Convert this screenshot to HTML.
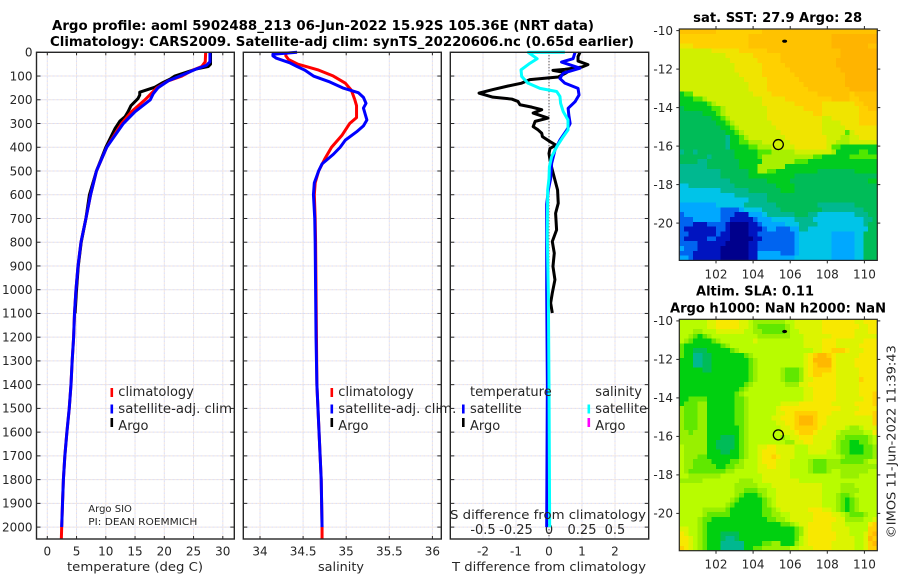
<!DOCTYPE html>
<html>
<head>
<meta charset="utf-8">
<title>Argo profile chart</title>
<style>
html,body{margin:0;padding:0;background:#fff;}
svg{display:block;font-family:"DejaVu Sans","Liberation Sans",sans-serif;}
text{fill:#262626;font-size:12px;}
.ttl{font-weight:bold;font-size:13px;fill:#000;}
.leg{font-size:13px;}
.sm{font-size:10px;}
</style>
</head>
<body>
<svg id="fig" xmlns="http://www.w3.org/2000/svg" width="900" height="580" viewBox="0 0 900 580">
  <rect x="0" y="0" width="900" height="580" fill="#fff"/>
  <text class="ttl" x="52" y="30" textLength="542" lengthAdjust="spacingAndGlyphs">Argo profile: aoml 5902488_213 06-Jun-2022 15.92S 105.36E (NRT data)</text>
  <text class="ttl" x="50" y="46" textLength="584" lengthAdjust="spacingAndGlyphs">Climatology: CARS2009. Satellite-adj clim: synTS_20220606.nc (0.65d earlier)</text>
  <g id="panels"></g>
  <g id="maps"></g>

  <text x="135" y="571" text-anchor="middle" textLength="136" lengthAdjust="spacingAndGlyphs">temperature (deg C)</text>
  <text x="341" y="571" text-anchor="middle" textLength="46" lengthAdjust="spacingAndGlyphs">salinity</text>
  <text x="549" y="571" text-anchor="middle" textLength="194" lengthAdjust="spacingAndGlyphs">T difference from climatology</text>
  <text x="548" y="519" text-anchor="middle" textLength="196" lengthAdjust="spacingAndGlyphs">S difference from climatology</text>

  <g>
    <rect x="110.5" y="388" width="2.6" height="9" fill="#f00"/>
    <text class="leg" x="118.3" y="396">climatology</text>
    <rect x="110.5" y="404.500" width="2.6" height="9" fill="#00f"/>
    <text class="leg" x="118.3" y="413" textLength="118" lengthAdjust="spacingAndGlyphs">satellite-adj. clim.</text>
    <rect x="110.5" y="418" width="2.6" height="9" fill="#000"/>
    <text class="leg" x="118.3" y="430">Argo</text>
  </g>
  <rect x="235.100" y="400" width="7.400" height="18" fill="#fff"/>
  <g>
    <rect x="330.5" y="388" width="2.6" height="9" fill="#f00"/>
    <text class="leg" x="338.3" y="396">climatology</text>
    <rect x="330.5" y="404.500" width="2.6" height="9" fill="#00f"/>
    <text class="leg" x="338.3" y="413" textLength="118" lengthAdjust="spacingAndGlyphs">satellite-adj. clim.</text>
    <rect x="330.5" y="418" width="2.6" height="9" fill="#000"/>
    <text class="leg" x="338.3" y="430">Argo</text>
  </g>
  <g>
    <text class="leg" x="470" y="396">temperature</text>
    <rect x="462" y="404.500" width="2.6" height="9" fill="#00f"/>
    <text class="leg" x="470" y="413">satellite</text>
    <rect x="462" y="418" width="2.6" height="9" fill="#000"/>
    <text class="leg" x="470" y="430">Argo</text>
    <text class="leg" x="595.300" y="396">salinity</text>
    <rect x="587.500" y="404.500" width="2.6" height="9" fill="#0ff"/>
    <text class="leg" x="595.300" y="413">satellite</text>
    <rect x="587.500" y="418" width="2.6" height="9" fill="#f0f"/>
    <text class="leg" x="595.300" y="430">Argo</text>
  </g>
  <text class="sm" x="88.300" y="512">Argo SIO</text>
  <text class="sm" x="88.300" y="525" textLength="109" lengthAdjust="spacingAndGlyphs">PI: DEAN ROEMMICH</text>

  <text class="ttl" x="777.700" y="22" text-anchor="middle" textLength="169" lengthAdjust="spacingAndGlyphs">sat. SST: 27.9 Argo: 28</text>
  <text class="ttl" x="755" y="295.500" text-anchor="middle" textLength="118" lengthAdjust="spacingAndGlyphs">Altim. SLA: 0.11</text>
  <text class="ttl" x="778" y="312.500" text-anchor="middle" textLength="216" lengthAdjust="spacingAndGlyphs">Argo h1000: NaN h2000: NaN</text>
  <text transform="translate(895.500,441.700) rotate(-90)" text-anchor="middle" textLength="193" lengthAdjust="spacingAndGlyphs">©IMOS 11-Jun-2022 11:39:43</text>
</svg>

<script>
// ---------- chart data ----------
const depthTicks = [0,100,200,300,400,500,600,700,800,900,1000,1100,1200,1300,1400,1500,1600,1700,1800,1900,2000];
const tempTicks = [0,5,10,15,20,25,30];
const salTicks = [34,34.5,35,35.5,36];
const salTickLabels = ['34','34.5','35','35.5','36'];
const tDiffTicks = [-2,-1,0,1,2];
const sDiffTicks = [-0.5,-0.25,0,0.25,0.5];
const sDiffTickLabels = ['-0.5','-0.25','0','0.25','0.5'];

const climDepth = [0,40,60,75,100,120,150,200,250,300,400,500,600,700,800,900,1000,1100,1200,1300,1400,1500,1600,1700,1800,1900,2000,2050];
const climTemp = [27.07,27.0,26.4,24.9,23,20.7,18.7,16.7,14.4,12.7,10.15,8.4,7.4,6.6,5.76,5.25,4.9,4.65,4.5,4.25,4.05,3.75,3.35,3.0,2.75,2.6,2.46,2.4];
const climSalDepth = [0,15,30,50,75,100,130,160,200,225,250,275,300,350,400,450,500,550,600,700,800,1000,1200,1400,1600,1800,2000,2050];
const climSal = [34.30,34.30,34.33,34.44,34.68,34.85,34.99,35.06,35.10,35.12,35.12,35.12,35.04,34.95,34.83,34.75,34.68,34.64,34.63,34.64,34.645,34.65,34.655,34.66,34.685,34.71,34.72,34.72];

const satTempDepth = [0,40,55,70,100,120,150,175,200,250,300,400,500,600,700,800,900,1000,1100,1200,1300,1400,1500,1600,1700,1800,1900,2000];
const satTemp = [27.8,27.8,27.2,25.5,22.7,20.7,18.9,18.1,17.6,15,13,10.15,8.4,7.4,6.6,5.76,5.25,4.9,4.65,4.5,4.25,4.05,3.75,3.35,3.0,2.75,2.6,2.46];
const satSalDepth = [0,8,15,25,45,60,75,100,125,150,170,190,215,235,260,285,310,335,370,400,430,470,500,550,600,700,800,1000,1200,1400,1600,1800,2000];
const satSal = [34.43,34.15,34.15,34.19,34.35,34.43,34.52,34.62,34.81,34.96,35.14,35.2,35.23,35.2,35.22,35.24,35.2,35.12,34.99,34.93,34.85,34.72,34.68,34.63,34.62,34.635,34.64,34.645,34.65,34.66,34.685,34.71,34.72];

const argoTempDepth = [0,50,60,70,100,113,127,147,168,180,195,225,250,271,290,320,350,400,500,600,700,800,900,1000,1100];
const argoTemp = [27.9,27.9,27.5,25.5,21.8,21,19.8,18.4,15.8,15.8,15.5,14.3,13.8,13.3,12.4,11.6,11,10,8.4,7.2,6.6,5.8,5.3,5,4.75];

const tDiffArgoDepth = [0,18,37,52,62,72,76,86,104,115,130,142,157,172,189,197,207,221,231,242,256,277,291,313,327,341,355,376,391,405,426,454,496,538,580,636,678,748,797,846,902,958,1014,1056,1098];
const tDiffArgo = [0.94,0.88,0.88,1.18,1.0,0.48,0.12,0.53,0.28,-0.58,-0.83,-1.24,-1.7,-2.12,-1.7,-1.13,-0.94,-0.88,-0.52,-0.22,-0.48,-0.03,-0.42,-0.48,-0.33,-0.22,-0.2,0.03,0.21,0.03,0,0.03,0.1,0.18,0.26,0.28,0.2,0.23,0.1,0.16,0.12,0.18,0.1,0.05,0.1];
const tDiffSatDepth = [0,27,41,67,88,110,130,152,180,208,236,264,300,327,370,412,468,532,580,640,800,1000,1400,2000];
const tDiffSat = [0.79,0.73,0.38,0.94,0.43,0.33,0.48,0.88,0.91,0.79,0.58,0.6,0.64,0.54,0.33,0.18,0.08,0.05,-0.02,-0.07,-0.07,-0.07,-0.05,-0.07];
const sDiffSatDepth = [0,0.5,27,46,74,102,130,152,165,186,215,250,285,327,355,398,440,482,532,580,776,1014,1400,2000];
const sDiffSat = [0.12,-0.157,-0.09,-0.144,-0.212,-0.207,-0.159,-0.068,0.058,0.083,0.088,0.108,0.144,0.144,0.108,0.058,0.02,0.003,0,-0.01,-0.013,-0.005,0,0.005];

const mapLonTicks = [102,104,106,108,110];
const mapLatTicks = [-10,-12,-14,-16,-18,-20];
const floatLon = 105.36;
const floatLat = -15.92;
const islandLon = 105.7;
const islandLat = -10.55;

// colour-class per cell: north row first, west column first
const sstRows = [
"ddddddddccccccccccddddddddddddddddddddddddd",
"cccccccccccccccddddddddddddddddddeeeeeeeeee",
"cccccccccccccccddddddddddddddddddeeeeeeeeee",
"bbbccccccccccccddddddddddddddddddeeeeeeeedd",
"aaaaaaabbbbbbccccccddddddddddddddddeeeeeeee",
"aaaaaaaaaabbbbbbccccccdddddddddddddeeeeeeee",
"aaaaaaaaaaabbbbbbcccccddddddddddddeeeeeeeee",
"aaaaaaaaaaaabbbbbbcccccdddddddddddeeeeeeeee",
"aaaaaaaaaaaabbbbbbccccccdddddddddddeeeeeeee",
"aaaaaaaaaaaaabbbbbcccccccdddddddddddeeeeeee",
"aaaaaaaaaaaaaabbbbbcccccccddddddddddeeeeeee",
"aaaaaaaaaaaaaaabbbbccccccccdddddddddeeeeeee",
"aaaaaaaaaaaaaaabbbbcccccccccdddddddddeeeeee",
"788aaaaaaaaaaaaabbbbccccccccccdddddddcddddd",
"777889aaaaaaaaaaaabbbbbccccccccccddddccdddd",
"77777789aaaaaaaaaabbbbbbbccccccbbbbbbbccddd",
"6777777889aaaaaaaaabbbbbbbbccccbbbbbbbbccdd",
"6666677789aaaaaaaaabbbbbbbbbbccbbbbbbbbcccc",
"66666667789aaaaaaaabbbbbbbbbbbbaabbbbbbcccc",
"666666667789aaaaaaaabbbbbbbbbbbaaaabbbbcccc",
"6666666667789aaaaaaaabbbbbbbbbbaaaaabbbbbbb",
"66666666667789aaaaaaaabbbbbbbbbaaaaa8abbbbb",
"666666666657789aaaaaaaabbbbbbbbbaaa99aabbbb",
"666666666657788999aaaaaabbbbbbbbaa999aaaaaa",
"66666666665777788999aaaaabbbbbbba8877777777",
"5665666666667777788899999aaaaaaaa9777778877",
"6666665666667777789999999999988777777888888",
"6666556666666777779999999888777777777777777",
"5555556666666777799999977777777777777777777",
"5555555556666667799887777777776666666677777",
"5555555556666667777777777666666666666666666",
"5555555555566666666777776666666666666666677",
"4455555555556666666667777666666666666666666",
"4444444445555556666666777666666666666666666",
"4444444444445555555666666666666666666666666",
"4444444444444445555666666666666666666666666",
"3333333344444455555556666666665555555566666",
"3333333332222344445555666666666555555555666",
"2333333332221113334555555666554444444455566",
"2223333332211111233344444555544444444444556",
"2221112222100001123333344455554444444444566",
"2111111122100001112332223355444444444444466",
"2211111121100001122222222344444443333344666",
"2111112211100000112222222344444443333344666",
"2222111111000001122222222344444443333344666",
"3222111110000001122222222344444443333344666",
"2221111110000001133333222344444443333344666",
"3321111110000001133333333444444443333344666"
];
const slaRows = [
"aaaaaabbcccccbba9999999aabbbbbbcccccccbbccc",
"aaaaaabbcccccbba98888889abbbbbbccccccccbbcc",
"aaa99aaabbbbbbaa99888889aabbbbbcccccccbbbcc",
"aa98789aaaaaaaaaa9999999aaabbbbbbcccccbbbbb",
"a98777789aaaaaaabaaaaaaaaaabbbbcccbbbbbbccc",
"87777777789aaaaaaaaaaaaaaaabbbbcccbbbbbcccc",
"8776667777789aaaaaaaaaaaaaaaabbccdddcbbbccc",
"8775566777777789aaaaaaaaaaabcdeedcbbbbbcccc",
"77755667777777789aaaaaaaaaabceeeecbbbbccccc",
"77755667777777789aaaaaaaaaabcdeeecbbbbccccc",
"77777667777777789aaaaa98889bcddddcbbbbbcccc",
"77777777777777789aaaaa98889bcddcccbbbbbcccc",
"77777777777777789aaaaa98889bbcccccbbbbbdccc",
"7777777777777789aaaaaaa999bbccccccbbbbbcccc",
"777777777777789aaaaaaaaaaaabbcccccbbbbbcccc",
"77777777777789aaaaaaaaaaaaabbcccccbbbbbcccd",
"778888777777889aaaaaaaaaaaabbcccccbbbbbbccd",
"788899777777889aaaaaaabbbbcccccccbbbbbccccd",
"988899777777889aaaaaabcccccccccccccbbbbcccc",
"988899777777889aaaaaabbccdddddcccbbbbbccccd",
"988899777777889aaaaabbcccdeeedccbbbbbbbbbbd",
"988899777777889aaaaaabbccdeeedccbbbbbbbbbbd",
"988899777777789aaaaaaabbcdddddcbbbbba99abbb",
"998999777777789aaaaaaabbbcdddcbbbba99999aac",
"999999777666789aaaaaaa9abbcccbbbbb99888889a",
"999999776666789aaaaaaaa99bbccbbbba98877889a",
"a99999776666789aabbccbbbbaaabbbbba98877788 9",
"a99999777667789aabcccbbbbaaabbbbaa988777889",
"a99988777777789aabccdcbbbaaaaaaaaaa98888889",
"a998888777788 9aaabcccbbbaaaa9888999888889a",
"a9988888778899aaabbccbbbaaaa988899999999999",
"a98888888899aaaaabbbbbbbaaaa98889aa999999aa",
"aa9999999aaaaaaaaabbbbbbaaaaaaaaaaa9999aaaa",
"99999aaaaaaaa999aabbbbbbbbaaaaaaaaaaaaaaaaa",
"aaaaaaaaaaaa99999aaabbbbbbbbbbbaaaa999aaaaa",
"aaaaaaaaaaaa9988899aabbbbbbbbbbaaaa9999aaaa",
"aaaaaaaaaaaa98777 89aabbbbbbbbbbaaa9889aaaa",
"aaaaaaaaaaa987777789abbbbbbbbbbaaa98789aaaa",
"aaaaaaaaaa987777778 9abbbbbbbbbbaaa98789aaa",
"aaaaa99999877777778 89abbbbbbcccbba98789aaa",
"aaaaa9888887777777889 9aabbbbbccccbba98889a",
"aaaa9887777777777778899abbbbbcccccbb9999aab",
"aaaa9877777777777777778 89abbcccccbbbaaaaacd",
"bbaa987777777777777777777 89bcccccbbbbaaaadd",
"cbaa987776666777777777777 89bccccccbbbaaabde",
"ccba987776556777777777777 8abccccccbbbbaabed",
"ccba98777555557777889977 79abcccccbbbbbaabde",
"dcba98777555557788999999aabbbccccbbbbbaabdd"
].map(s => s.split(' ').join(''));
const colourClassKeys = '0123456789abcde';
const sstFills = ['#00008c','#0014c0','#0064f0','#00a8ff','#00c4e8','#00b890','#00bc58','#00cc20','#50e800','#a8f000','#d0f000','#f0e400','#ffd000','#ffc200','#ffb400'];
const slaFills = ['#00008c','#0014c0','#0064f0','#00a8ff','#00c4e8','#00b890','#00bc58','#00d010','#60e800','#98f000','#b8fc00','#dcf400','#f8e800','#ffd000','#ffb800'];

// ---------- helpers ----------
const NS = 'http://www.w3.org/2000/svg';
function mk(tag, attrs, parent) {
  const el = document.createElementNS(NS, tag);
  for (const k in attrs) el.setAttribute(k, attrs[k]);
  parent.appendChild(el);
  return el;
}
const yDepth = d => 52.3 + 0.2374 * d;
const xTemp = t => 47.3 + 5.85 * t;
const xSal = s => 260 + 86.2 * (s - 34);
const xTDiff = v => 549 + 33 * v;
const xSDiff = v => 549 + 132 * v;

const panelsG = document.getElementById('panels');
const mapsG = document.getElementById('maps');
const TOP = 52.3, BOT = 539;

function gridLine(g, x1, y1, x2, y2) {
  const a = mk('line', {x1, y1, x2, y2, stroke: '#d9def8', 'stroke-width': 1, 'stroke-dasharray': '2 2'}, g);
  
  
  const b = mk('line', {x1, y1, x2, y2, stroke: '#f4e5dc', 'stroke-width': 1, 'stroke-dasharray': '2 2', 'stroke-dashoffset': 2}, g);
  
  
}

function buildPanel(name, left, right, xTicks, xFn, xLabels, showDepthLabels, hTicks) {
  const g = mk('g', {}, panelsG);
  
  
  depthTicks.forEach(d => gridLine(g, left, yDepth(d), right, yDepth(d)));
  xTicks.forEach(v => gridLine(g, xFn(v), TOP, xFn(v), BOT));
  xTicks.forEach((v, i) => {
    const t = mk('text', {x: xFn(v), y: 555.5, 'text-anchor': 'middle'}, g);
    
    
    t.textContent = xLabels[i];
    if (hTicks) {
      const a = mk('line', {x1: xFn(v), x2: xFn(v), y1: TOP, y2: TOP + 3, stroke: '#262626'}, g);
      
      
      const b = mk('line', {x1: xFn(v), x2: xFn(v), y1: BOT, y2: BOT - 3, stroke: '#262626'}, g);
      
      
    }
  });
  depthTicks.forEach(d => {
    const a = mk('line', {x1: left, x2: left + 4, y1: yDepth(d), y2: yDepth(d), stroke: '#262626'}, g);
    
    
    const b = mk('line', {x1: right, x2: right - 4, y1: yDepth(d), y2: yDepth(d), stroke: '#262626'}, g);
    
    
    if (showDepthLabels) {
      const t = mk('text', {x: 32.5, y: yDepth(d) + 4.3, 'text-anchor': 'end'}, g);
      
      
      t.textContent = d;
    }
  });
  return g;
}
function drawFrame(name, left, right) {
  const f = mk('rect', {x: left, y: TOP, width: right - left, height: BOT - TOP, fill: 'none', stroke: '#262626', 'stroke-width': 1.4}, panelsG);
  
  
}
function profileLine(g, seriesName, depths, values, xFn, colour, width) {
  const pts = depths.map((d, i) => xFn(values[i]).toFixed(2) + ',' + yDepth(d).toFixed(2)).join(' ');
  const p = mk('polyline', {points: pts, fill: 'none', stroke: colour, 'stroke-width': width || 3, 'stroke-linejoin': 'round', 'stroke-linecap': 'butt'}, g);
  
  
}

// ---------- temperature panel ----------
const g1 = buildPanel('temperature-panel', 36.5, 234.3, tempTicks, xTemp, tempTicks.map(String), true, true);
profileLine(g1, 'argo-temperature-line', argoTempDepth, argoTemp, xTemp, '#000');
profileLine(g1, 'climatology-temperature-line', climDepth, climTemp, xTemp, '#f00');
profileLine(g1, 'satellite-adj-temperature-line', satTempDepth, satTemp, xTemp, '#00f');
drawFrame('temperature-panel', 36.5, 234.3);

// ---------- salinity panel ----------
const g2 = buildPanel('salinity-panel', 243.3, 441.3, salTicks, xSal, salTickLabels, false, true);
profileLine(g2, 'climatology-salinity-line', climSalDepth, climSal, xSal, '#f00');
profileLine(g2, 'satellite-adj-salinity-line', satSalDepth, satSal, xSal, '#00f');
drawFrame('salinity-panel', 243.3, 441.3);

// ---------- difference panel ----------
const g3 = buildPanel('difference-panel', 450.3, 648.7, tDiffTicks, xTDiff, tDiffTicks.map(String), false, false);
const zeroLine = mk('line', {x1: xTDiff(0), x2: xTDiff(0), y1: TOP, y2: BOT, stroke: '#222', 'stroke-width': 1, 'stroke-dasharray': '1 2'}, g3);


sDiffTicks.forEach((v, i) => {
  const t = mk('text', {x: xSDiff(v), y: 534, 'text-anchor': 'middle', style: 'font-size:13px'}, g3);
  
  
  t.textContent = sDiffTickLabels[i];
});
profileLine(g3, 'argo-t-difference-line', tDiffArgoDepth, tDiffArgo, xTDiff, '#000');
profileLine(g3, 'satellite-t-difference-line', tDiffSatDepth, tDiffSat, xTDiff, '#00f');
profileLine(g3, 'satellite-s-difference-line', sDiffSatDepth, sDiffSat, xSDiff, '#0ff');
drawFrame('difference-panel', 450.3, 648.7);

// ---------- maps ----------
const CELL_W = 198 / 43, CELL_H = 231.4 / 48;
function buildMap(name, rows, fills, top) {
  const left = 679.3, right = 877.3, bottom = top + 231.4;
  const xLon = lon => 716 + (lon - 102) * 18.55;
  const yLat = lat => top + 1.6 + (-10 - lat) * 19.25;
  const g = mk('g', {'shape-rendering': 'crispEdges'}, mapsG);
  
  
  rows.forEach((row, r) => {
    for (let c = 0; c < 43; c++) {
      const ch = row[c] || row[row.length - 1];
      const cell = mk('rect', {x: (left + c * CELL_W).toFixed(2), y: (top + r * CELL_H).toFixed(2), width: (CELL_W + 0.4).toFixed(2), height: (CELL_H + 0.4).toFixed(2), fill: fills[colourClassKeys.indexOf(ch)]}, g);
      
      
    }
  });
  const frame = mk('rect', {x: left, y: top, width: right - left, height: bottom - top, fill: 'none', stroke: '#262626', 'stroke-width': 1.2}, mapsG);
  
  
  mapLonTicks.forEach(lon => {
    const t = mk('text', {x: xLon(lon), y: bottom + 18, 'text-anchor': 'middle'}, mapsG);
    
    
    t.textContent = lon;
    const a = mk('line', {x1: xLon(lon), x2: xLon(lon), y1: top, y2: top - 3, stroke: '#262626'}, mapsG);
    
    
    const b = mk('line', {x1: xLon(lon), x2: xLon(lon), y1: bottom, y2: bottom + 3, stroke: '#262626'}, mapsG);
    
    
  });
  mapLatTicks.forEach(lat => {
    const t = mk('text', {x: 673, y: yLat(lat) + 4.3, 'text-anchor': 'end'}, mapsG);
    
    
    t.textContent = lat;
    const a = mk('line', {x1: left, x2: left - 3, y1: yLat(lat), y2: yLat(lat), stroke: '#262626'}, mapsG);
    
    
    const b = mk('line', {x1: right, x2: right + 3, y1: yLat(lat), y2: yLat(lat), stroke: '#262626'}, mapsG);
    
    
  });
  const circle = mk('circle', {cx: xLon(floatLon), cy: yLat(floatLat), r: 5, fill: 'none', stroke: '#000', 'stroke-width': 1.3}, mapsG);
  
  
  const island = mk('ellipse', {cx: xLon(islandLon), cy: yLat(islandLat), rx: 2.5, ry: 1.6, fill: '#000'}, mapsG);
  
  
}
buildMap('sst', sstRows, sstFills, 29);
buildMap('sla', slaRows, slaFills, 319.3);
</script>
</body>
</html>
